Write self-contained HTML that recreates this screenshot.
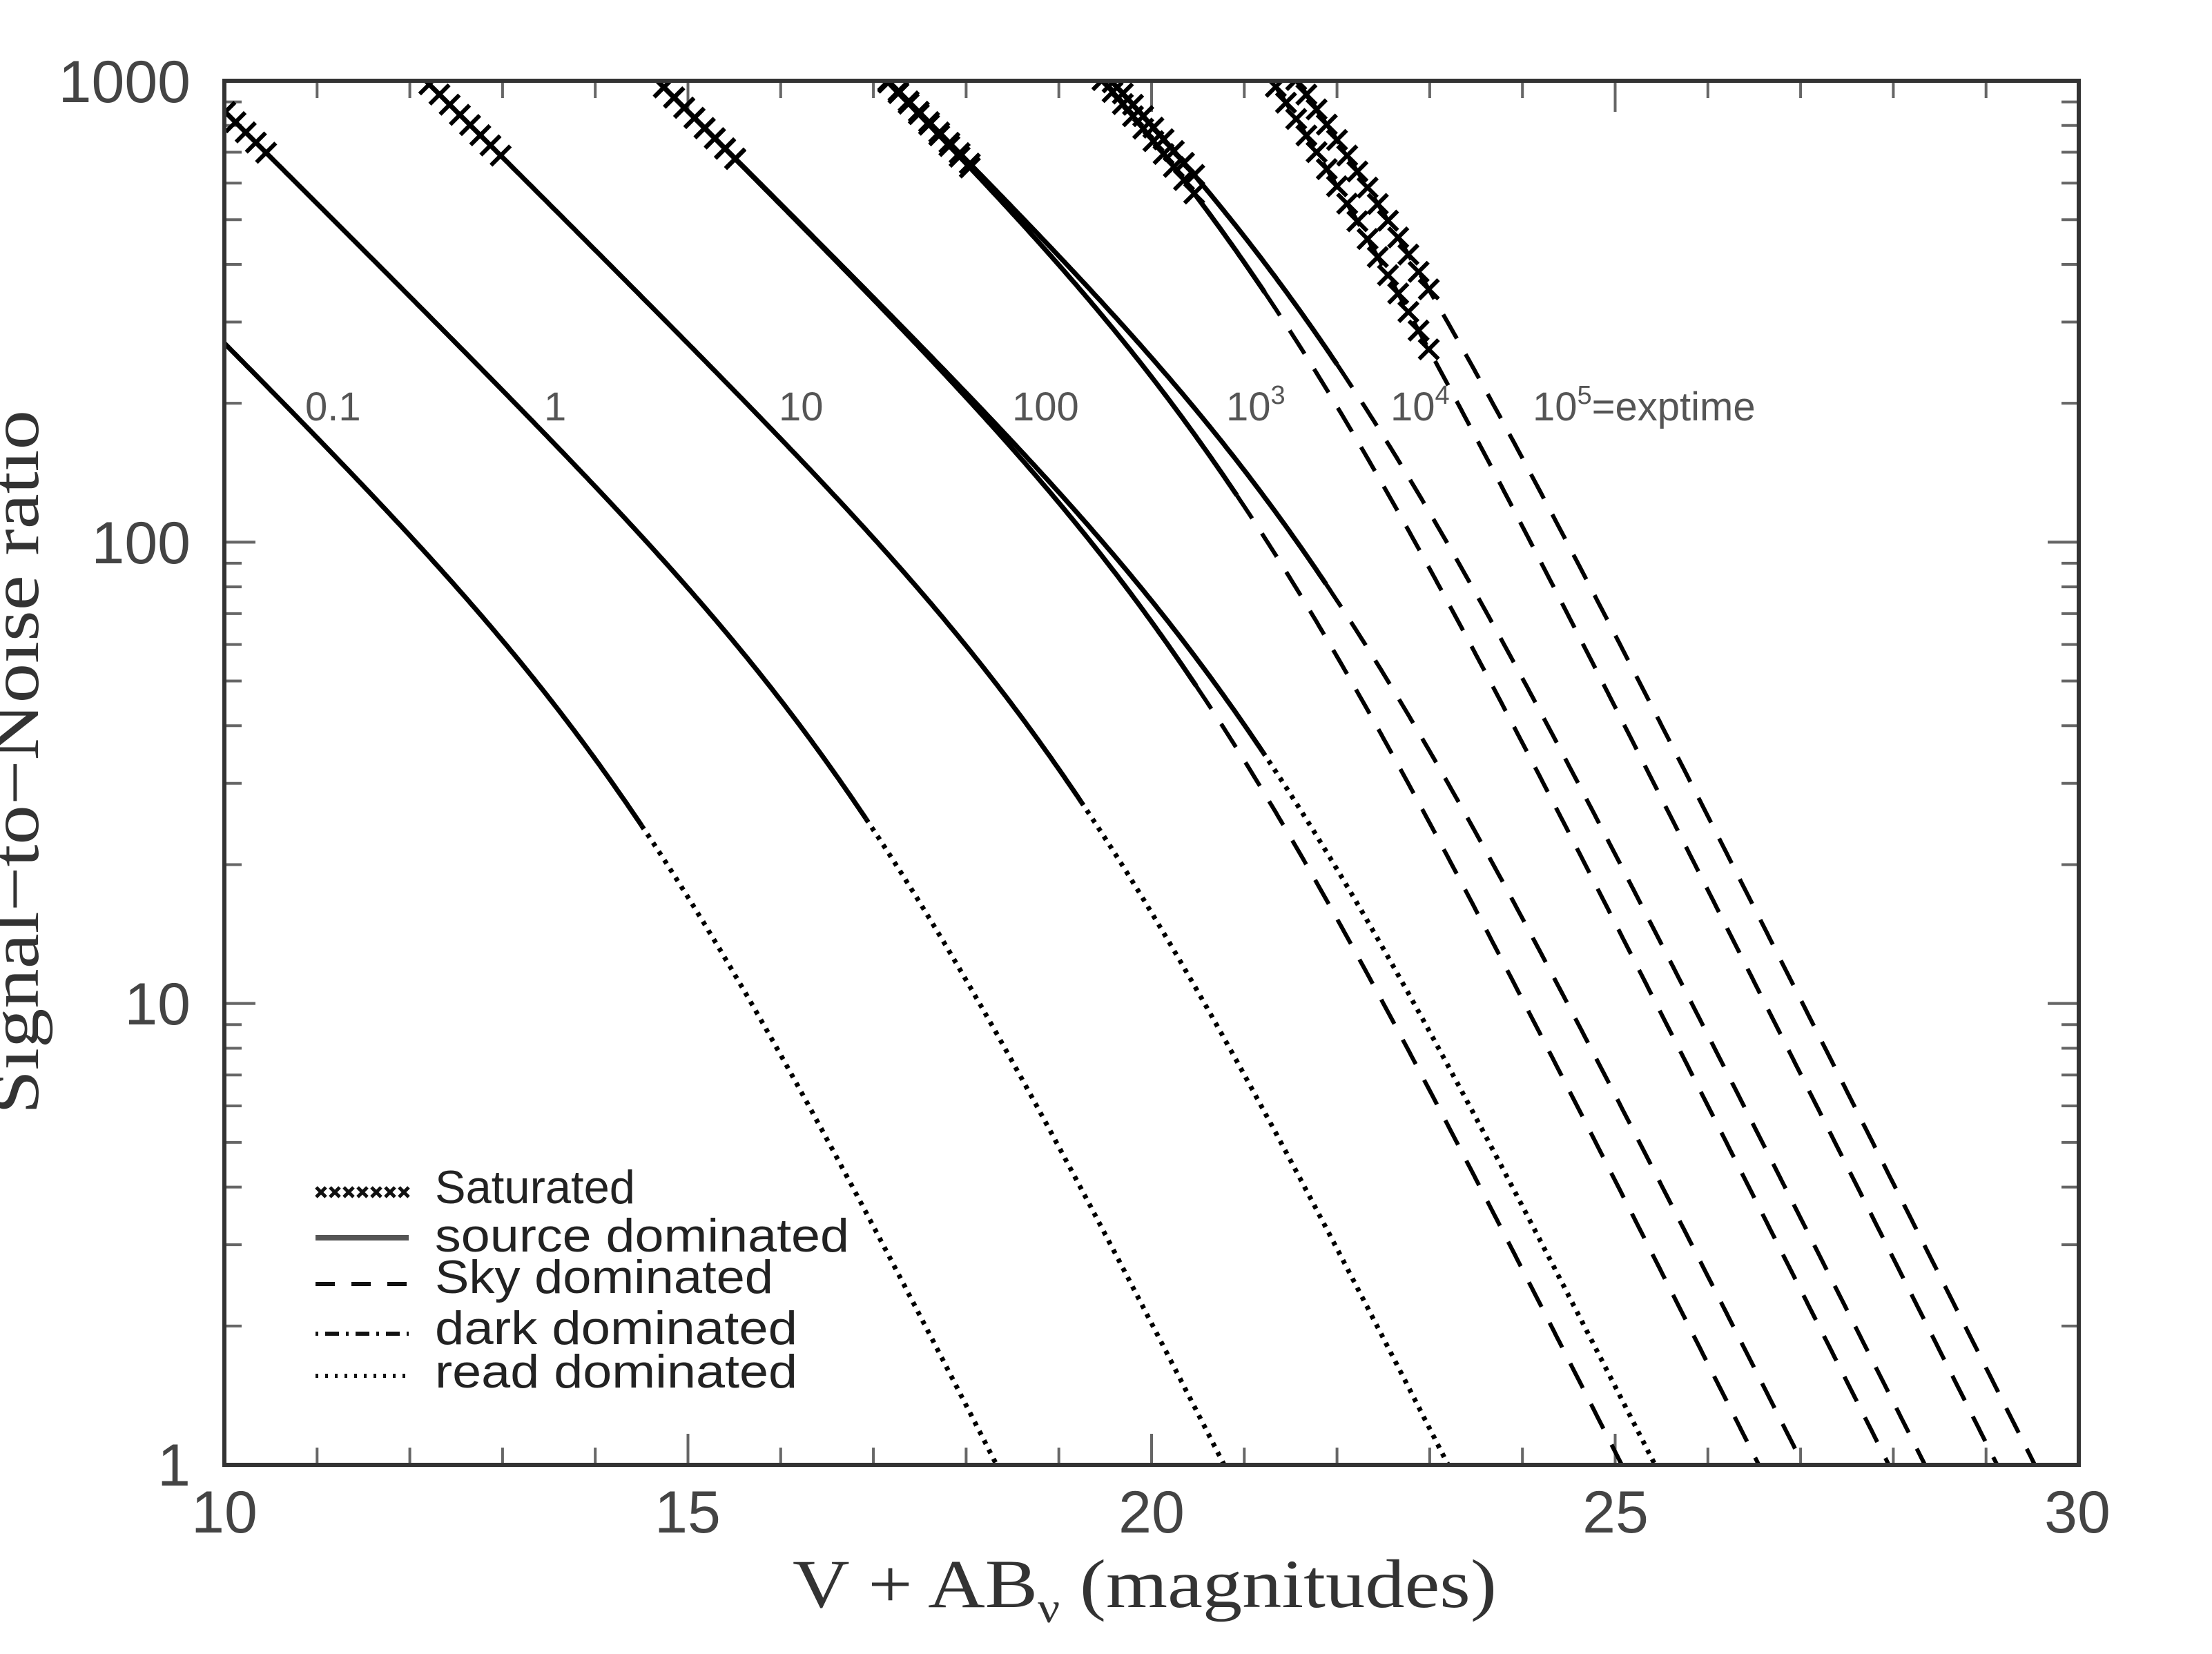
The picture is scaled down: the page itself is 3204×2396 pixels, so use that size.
<!DOCTYPE html>
<html><head><meta charset="utf-8"><style>
html,body{margin:0;padding:0;background:#fff}
svg{display:block}
</style></head><body>
<svg id="s" xmlns="http://www.w3.org/2000/svg" width="3204" height="2396" viewBox="0 0 3204 2396">
<rect width="3204" height="2396" fill="#fff"/>
<defs><clipPath id="cp"><rect x="325" y="117" width="2686" height="2005"/></clipPath></defs>
<g id="ticks" stroke="#666" stroke-width="4"></g>
<g id="curves" clip-path="url(#cp)" fill="none" stroke="#000"></g>
<rect x="325" y="117" width="2686" height="2005" fill="none" stroke="#333" stroke-width="6"/>
<g font-family="Liberation Sans, sans-serif" font-size="86" fill="#444">
<text x="276" y="148" text-anchor="end">1000</text>
<text x="276" y="816" text-anchor="end">100</text>
<text x="276" y="1484" text-anchor="end">10</text>
<text x="276" y="2152" text-anchor="end">1</text>
<text x="325" y="2220" text-anchor="middle">10</text>
<text x="996" y="2220" text-anchor="middle">15</text>
<text x="1668" y="2220" text-anchor="middle">20</text>
<text x="2340" y="2220" text-anchor="middle">25</text>
<text x="3009" y="2220" text-anchor="middle">30</text>
</g>
<text x="1148" y="2328" font-family="Liberation Serif, serif" font-size="100" fill="#333" textLength="1020" lengthAdjust="spacingAndGlyphs">V + AB<tspan font-size="62" dy="22">ν</tspan><tspan dy="-22"> (magnitudes)</tspan></text>
<text transform="translate(55,1614) rotate(-90)" font-family="Liberation Serif, serif" font-size="100" fill="#333" textLength="1020" lengthAdjust="spacingAndGlyphs">Signal−to−Noise ratio</text>
<g font-family="Liberation Sans, sans-serif" font-size="58" fill="#555">
<text x="442" y="609">0.1</text>
<text x="788" y="609">1</text>
<text x="1128" y="609">10</text>
<text x="1466" y="609">100</text>
<text x="1776" y="609">10<tspan font-size="38" dy="-24">3</tspan></text>
<text x="2014" y="609">10<tspan font-size="38" dy="-24">4</tspan></text>
<text x="2220" y="609">10<tspan font-size="38" dy="-24">5</tspan><tspan dy="24">=exptime</tspan></text>
</g>
<g id="legend" font-family="Liberation Sans, sans-serif" font-size="68" fill="#222">
<text x="630" y="1743" textLength="290" lengthAdjust="spacingAndGlyphs">Saturated</text>
<text x="630" y="1813" textLength="600" lengthAdjust="spacingAndGlyphs">source dominated</text>
<text x="630" y="1873" textLength="490" lengthAdjust="spacingAndGlyphs">Sky dominated</text>
<text x="630" y="1947" textLength="525" lengthAdjust="spacingAndGlyphs">dark dominated</text>
<text x="630" y="2010" textLength="525" lengthAdjust="spacingAndGlyphs">read dominated</text>
<line x1="457" y1="1793" x2="592" y2="1793" stroke="#555" stroke-width="8"/>
<line x1="457" y1="1860" x2="592" y2="1860" stroke="#111" stroke-width="6" stroke-dasharray="28 24"/>
<line x1="457" y1="1932" x2="592" y2="1932" stroke="#111" stroke-width="6" stroke-dasharray="4 10 20 10"/>
<line x1="457" y1="1993" x2="592" y2="1993" stroke="#111" stroke-width="6" stroke-dasharray="4 10"/>
</g>
</svg>
<script>
(function(){
var NS="http://www.w3.org/2000/svg";
function X(m){return 325+(m-10)*134.3;}
function Y(s){return 2122-Math.log10(s)*668.33;}
function el(p,t,a){var e=document.createElementNS(NS,t);for(var k in a)e.setAttribute(k,a[k]);p.appendChild(e);return e;}
var tk=document.getElementById('ticks');
for(var m=10;m<=30;m++){var L=(m%5==0)?45:25;var x=X(m);
 el(tk,'line',{x1:x,y1:2122,x2:x,y2:2122-L});el(tk,'line',{x1:x,y1:117,x2:x,y2:117+L});}
for(var d=0;d<3;d++){for(var k=1;k<=10;k++){var v=k*Math.pow(10,d);if(v>1000)break;var y=Y(v);var L=(k==1||k==10)?45:25;
 el(tk,'line',{x1:325,y1:y,x2:325+L,y2:y});el(tk,'line',{x1:3011,y1:y,x2:3011-L,y2:y});}}
var cg=document.getElementById('curves');
var C=[[7.4e4,1156,'dot'],[7.4e5,1260,'dot'],[7.4e6,1474,'dot'],
[7.4e7,4733,'dash'],[7.4e7,2430,'dot'],[7.4e8,31360,'dash'],[7.4e8,12930,'dash'],
[7.4e9,2.38e5,'dash'],[7.4e9,1.16e5,'dash'],[7.4e10,2.77e6,'dash'],[7.4e10,1.31e6,'dash']];
C.forEach(function(c){var A=c[0],b=c[1];var s1=[],s2=[];
 for(var m=9.5;m<=31;m+=0.02){var x=A*Math.pow(10,-0.4*(m-10));var s=x/Math.sqrt(x+b);
  if(s>1500||s<0.8)continue;var p=X(m).toFixed(1)+','+Y(s).toFixed(1);
  if(x>=b){s1.push(p);}else{if(s2.length==0&&s1.length)s2.push(s1[s1.length-1]);s2.push(p);}}
 if(s1.length>1)el(cg,'polyline',{points:s1.join(' '),'stroke-width':7});
 if(s2.length>1){if(c[2]=='dash')el(cg,'polyline',{points:s2.join(' '),'stroke-width':6,'stroke-dasharray':'40 26'});
  else el(cg,'polyline',{points:s2.join(' '),'stroke-width':7,'stroke-dasharray':'6 9'});}
 for(var m=9.9;m<=31;m+=0.11){var x=A*Math.pow(10,-0.4*(m-10));var s=x/Math.sqrt(x+b);
  if(x<4.5e5)break;if(s>1010)continue;var px=X(m),py=Y(s),r=14;
  el(cg,'path',{d:'M'+(px-r)+','+(py-r)+'L'+(px+r)+','+(py+r)+'M'+(px+r)+','+(py-r)+'L'+(px-r)+','+(py+r),'stroke-width':6});}
});
var lg=document.getElementById('legend');
for(var i=0;i<7;i++){var px=465+i*20,py=1727,r=7;
 el(lg,'path',{d:'M'+(px-r)+','+(py-r)+'L'+(px+r)+','+(py+r)+'M'+(px+r)+','+(py-r)+'L'+(px-r)+','+(py+r),stroke:'#111','stroke-width':5});}
})();
</script>
</body></html>
